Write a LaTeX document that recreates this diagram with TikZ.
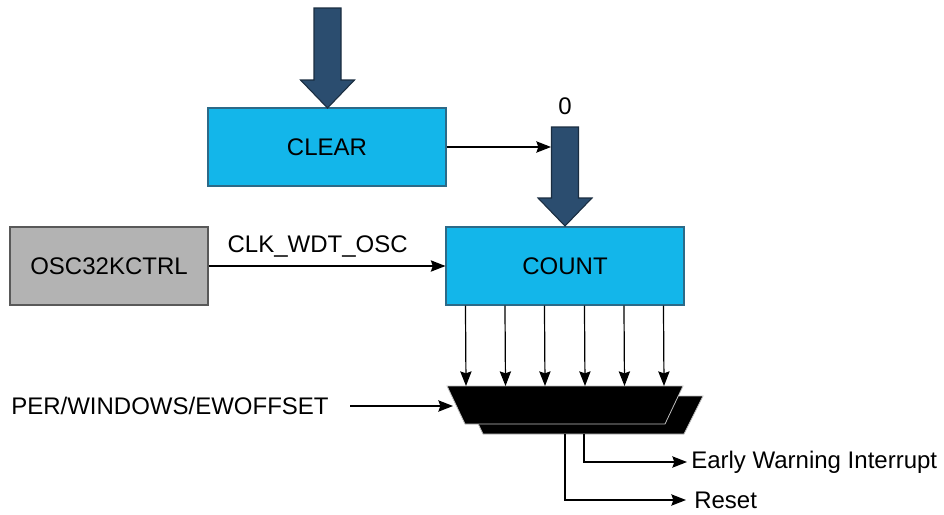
\documentclass[tikz,border=0pt]{standalone}
\usepackage{fontspec}
\setmainfont{Liberation Sans}
\usetikzlibrary{arrows.meta,calc}
\definecolor{boxblue}{HTML}{13B6EA}
\definecolor{boxline}{HTML}{2C6A88}
\definecolor{arrowblue}{HTML}{2B4D6F}
\definecolor{arrowline}{HTML}{1A2D40}
\definecolor{boxgray}{HTML}{B3B3B3}
\tikzset{
  bluebox/.style={draw=boxline, fill=boxblue, line width=0.8pt, minimum width=178.5pt, minimum height=58.5pt, inner sep=0pt},
  graybox/.style={draw=black!65, fill=boxgray, line width=0.8pt, minimum width=148.5pt, minimum height=58.5pt, inner sep=0pt},
  bigarrow/.style={draw=arrowline, fill=arrowblue, line width=0.8pt, line join=miter},
  sig/.style={line width=0.9pt, -{Stealth[length=11pt,width=8.5pt,inset=1.5pt]}},
  muxfill/.style={fill=black, draw=black!25, line width=0.6pt}
}
\newcommand\bigarrow[3]{\draw[bigarrow] ({#1-13.5},#2) -- ({#1+13.5},#2) -- ({#1+13.5},{#3-28}) -- ({#1+27},{#3-28}) -- (#1,#3) -- ({#1-27},{#3-28}) -- ({#1-13.5},{#3-28}) -- cycle;}

\begin{document}
\begin{tikzpicture}[x=0.75pt, y=-0.75pt, font=\fontsize{18}{21}\selectfont]
			%%%%% START %%%%%
			\useasboundingbox (0,0) rectangle (944,514);
			
			% blocks
			\node[bluebox] (clear) at (327,147) {CLEAR};
			\node[bluebox] (count) at (565,266) {COUNT};
			\node[graybox] (osc) at (109,266) {OSC32KCTRL};
			
			% big arrows
			\bigarrow{327.5}{8}{108}
			\bigarrow{565}{127}{226}
			\node (zero) at (565,106) {0};
			
			\coordinate (shaft) at (551,147);
			\draw[sig] (clear.east) -- (shaft);
			\draw[sig] (osc.east) -- node[above=3pt, xshift=-7pt] {CLK\_WDT\_OSC} (count.west);
			
			% comparator
			\draw[muxfill] (465,396) -- (703,396) -- (684,434) -- (483,434) -- cycle;
			\draw[muxfill] (447,386) -- (683,386) -- (665,424) -- (465,424) -- cycle;
			
			\foreach \dx in {20,59.5,99,139,178.5,218} {
				\draw[sig] ($(count.south west)+(\dx,0)$) -- ({446+\dx},386);
			}
			
			\node[anchor=west, inner sep=0pt] (per) at (11,406) {PER/WINDOWS/EWOFFSET};
			\coordinate (muxin) at (453,406);
			\draw[sig] ([xshift=16pt]per.east) -- (muxin);
			
			% outputs
			\coordinate (rst) at (565,434);
			\coordinate (ewi) at (584,434);
			\node[anchor=west, inner sep=0pt] (reset) at (694,500) {Reset};
			\node[anchor=west, inner sep=0pt] (early) at (691,462) {Early Warning Interrupt};
			\draw[sig] (rst) |- ([xshift=-6pt]reset.west);
			\draw[sig] (ewi) |- ([xshift=-3pt]early.west);
			
			%%%%% END %%%%%
\end{tikzpicture}
\end{document}
